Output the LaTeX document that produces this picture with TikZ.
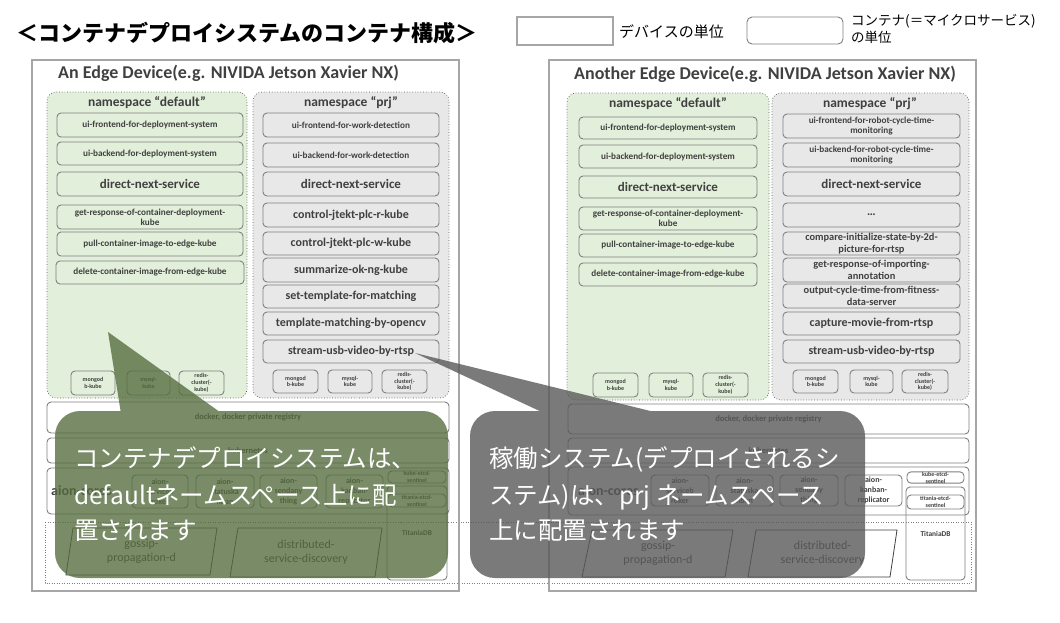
\documentclass[tikz,border=0pt]{standalone}
\usepackage{fontspec}
\setmainfont{Carlito}
\newfontfamily\jpfont{Noto Sans CJK JP}

\definecolor{devline}{HTML}{A6A6A6}
\definecolor{boxline}{HTML}{808080}
\definecolor{ink}{HTML}{404040}
\definecolor{nsgreen}{HTML}{E2EFDA}
\definecolor{nsgrey}{HTML}{E8E8E8}
\definecolor{nsline}{HTML}{595959}
\definecolor{calloutgreen}{RGB}{84,108,61}
\definecolor{calloutgrey}{RGB}{89,89,89}

\tikzset{
  cbox/.style={draw=boxline, line width=0.9pt, rounded corners=4pt, text=ink,
    align=center, inner sep=0pt, font=\fontsize{9.2}{10.4}\selectfont\bfseries},
  fS/.style={font=\fontsize{9.2}{10.4}\selectfont\bfseries},
  fM/.style={font=\fontsize{10.4}{11.4}\selectfont\bfseries},
  fL/.style={font=\fontsize{12}{13}\selectfont\bfseries},
  fXL/.style={font=\fontsize{13}{14}\selectfont\bfseries},
  fDB/.style={font=\fontsize{6}{6.8}\selectfont\bfseries},
  fRow/.style={font=\fontsize{8.5}{10}\selectfont\bfseries},
  fAion/.style={font=\fontsize{8}{10}\selectfont\bfseries},
  fSent/.style={font=\fontsize{6}{7}\selectfont\bfseries},
  devbox/.style={cbox, draw=devline, line width=1.6pt, rounded corners=0pt},
  nsbox/.style={cbox, draw=nsline, line width=0.7pt, dotted, rounded corners=9pt},
  devtitle/.style={anchor=west, text=ink, inner sep=0pt, font=\fontsize{18}{20}\selectfont\bfseries},
  nstitle/.style={text=ink, inner sep=0pt, font=\fontsize{13.5}{15}\selectfont\bfseries},
  para/.style={draw=ink, line width=0.8pt},
  paratext/.style={text=ink, align=center, inner sep=0pt, font=\fontsize{12}{13.5}\selectfont},
  gossipzone/.style={draw=boxline, line width=0.8pt, dash pattern=on 1pt off 1.5pt},
  calltext/.style={anchor=base west, text=white, inner sep=0pt, font=\jpfont\fontsize{24.5}{30}\selectfont},
}

% \boxat[options]{name}{x1}{y1}{x2}{y2}{text}
\newcommand\boxat[7][]{%
  \node[cbox,#1,minimum width={(#5-#3)*1pt},minimum height={(#6-#4)*1pt}]
    (#2) at ({(#3+#5)/2},{(#4+#6)/2}) {#7};}

\begin{document}
\begin{tikzpicture}[x=1pt,y=-1pt]
\useasboundingbox (0,0) rectangle (1060,622);
\fill[white] (0,0) rectangle (1060,622);

% ---- heading and legend ----
\node[anchor=west, inner sep=0pt, font=\jpfont\bfseries\fontsize{22}{24}\selectfont] (title) at (16,33) {＜コンテナデプロイシステムのコンテナ構成＞};
\boxat[devbox, line width=1.2pt]{legdev}{517}{17}{613}{45}{}
\node[anchor=west, inner sep=0pt, font=\jpfont\fontsize{15}{17}\selectfont] (legdevtxt) at (619,32) {デバイスの単位};
\boxat[cbox, rounded corners=5pt]{legctr}{747}{17}{843}{44}{}
\node[anchor=north west, align=left, inner sep=0pt, font=\jpfont\fontsize{13.5}{17.5}\selectfont] (legctrtxt) at (851,14) {コンテナ(＝マイクロサービス)\\の単位};

% ---- shared gossip layer across both devices ----
\draw[gossipzone] (45,522) rectangle (971,583);

% ================= left device =================
\boxat[devbox]{devA}{32}{60}{459}{591}{}
\node[devtitle] (devAtitle) at (58,73) {An Edge Device(e.g. NIVIDA Jetson Xavier NX)};

\boxat[nsbox, fill=nsgreen]{nsAdef}{47}{92}{247}{398}{}
\node[nstitle] (nsAdeftitle) at (147,103) {namespace “default”};
\boxat[fS]{a1}{57}{113}{243}{137}{ui-frontend-for-deployment-system}
\boxat[fS]{a2}{57}{142}{243}{165}{ui-backend-for-deployment-system}
\boxat[fXL]{a3}{57}{172}{243}{196}{direct-next-service}
\boxat[fS]{a4}{57}{205}{243}{229}{get-response-of-container-deployment-\\kube}
\boxat[fS]{a5}{57}{232}{243}{256}{pull-container-image-to-edge-kube}
\boxat[fS]{a6}{56}{261}{244}{284}{delete-container-image-from-edge-kube}
\boxat[fDB]{adb1}{71}{371}{115}{395}{mongod\\b-kube}
\boxat[fDB]{adb2}{127}{371}{170}{395}{mysql-\\kube}
\boxat[fDB]{adb3}{179}{371}{224}{395}{redis-\\cluster(-\\kube)}

\boxat[nsbox, fill=nsgrey]{nsAprj}{253}{92}{449}{398}{}
\node[nstitle] (nsAprjtitle) at (351,103) {namespace “prj”};
\boxat[fS]{b1}{263}{113}{439}{137}{ui-frontend-for-work-detection}
\boxat[fS]{b2}{263}{143}{439}{167}{ui-backend-for-work-detection}
\boxat[fXL]{b3}{263}{172}{439}{196}{direct-next-service}
\boxat[fL]{b4}{263}{203}{439}{227}{control-jtekt-plc-r-kube}
\boxat[fL]{b5}{263}{232}{439}{255}{control-jtekt-plc-w-kube}
\boxat[fL]{b6}{263}{258}{439}{282}{summarize-ok-ng-kube}
\boxat[fL]{b7}{263}{285}{439}{308}{set-template-for-matching}
\boxat[fL]{b8}{263}{312}{439}{335}{template-matching-by-opencv}
\boxat[fL]{b9}{263}{340}{439}{363}{stream-usb-video-by-rtsp}
\boxat[fDB]{bdb1}{273}{370}{318}{393}{mongod\\b-kube}
\boxat[fDB]{bdb2}{328}{370}{372}{393}{mysql-\\kube}
\boxat[fDB]{bdb3}{382}{370}{427}{393}{redis-\\cluster(-\\kube)}

\boxat[fRow]{dockA}{47}{402}{449}{433}{docker, docker private registry}
\boxat[fRow]{kubeA}{47}{438}{449}{463}{kubernetes}
\boxat{aionA}{47}{468}{449}{514}{}
\node[anchor=west, text=ink, inner sep=0pt, font=\fontsize{14}{16}\selectfont\bfseries] (aionAtxt) at (51,491) {aion-cores};
\boxat[fAion]{aA1}{132}{475}{188}{508}{aion-\\serviceb\\roker}
\boxat[fAion]{aA2}{196}{475}{254}{508}{aion-\\statuska\\nban}
\boxat[fAion]{aA3}{260}{475}{317}{508}{aion-\\sendany\\thing}
\boxat[fAion]{aA4}{326}{475}{383}{508}{aion-\\kanban-\\replicator}
\boxat[font=\fontsize{7.4}{8}\selectfont\bfseries]{titA}{387}{486}{447}{580}{TitaniaDB}
\boxat[fSent]{kesA}{388}{471}{446}{483}{kube-etcd-\\sentinel}
\boxat[fSent]{tesA}{388}{494}{446}{507}{titania-etcd-\\sentinel}

\draw[para] (73,528) -- (217,528) -- (210,575) -- (66,575) -- cycle;
\node[paratext] (gosA) at (141.5,551.5) {gossip-\\propagation-d};
\draw[para] (238,528) -- (382,528) -- (375,577) -- (230,577) -- cycle;
\node[paratext] (sdA) at (306,552.5) {distributed-\\service-discovery};

% ================= right device =================
\boxat[devbox]{devB}{549}{60}{976}{591}{}
\node[devtitle] (devBtitle) at (574,74) {Another Edge Device(e.g. NIVIDA Jetson Xavier NX)};

\boxat[nsbox, fill=nsgreen]{nsBdef}{567}{93}{769}{400}{}
\node[nstitle] (nsBdeftitle) at (668,104) {namespace “default”};
\boxat[fS]{c1}{579}{117}{757}{139}{ui-frontend-for-deployment-system}
\boxat[fS]{c2}{579}{145}{757}{168}{ui-backend-for-deployment-system}
\boxat[fXL]{c3}{579}{176}{757}{198}{direct-next-service}
\boxat[fS]{c4}{579}{207}{757}{230}{get-response-of-container-deployment-\\kube}
\boxat[fS]{c5}{579}{234}{757}{257}{pull-container-image-to-edge-kube}
\boxat[fS]{c6}{579}{263}{757}{286}{delete-container-image-from-edge-kube}
\boxat[fDB]{cdb1}{593}{373}{638}{397}{mongod\\b-kube}
\boxat[fDB]{cdb2}{649}{373}{693}{397}{mysql-\\kube}
\boxat[fDB]{cdb3}{703}{373}{748}{397}{redis-\\cluster(-\\kube)}

\boxat[nsbox, fill=nsgrey]{nsBprj}{772}{93}{969}{400}{}
\node[nstitle] (nsBprjtitle) at (870,104) {namespace “prj”};
\boxat[fS]{d1}{783}{114}{960}{138}{ui-frontend-for-robot-cycle-time-\\monitoring}
\boxat[fS]{d2}{783}{143}{960}{167}{ui-backend-for-robot-cycle-time-\\monitoring}
\boxat[fXL]{d3}{783}{172}{960}{196}{direct-next-service}
\boxat[fL]{d4}{783}{203}{960}{227}{…}
\boxat[fM]{d5}{783}{232}{960}{255}{compare-initialize-state-by-2d-\\picture-for-rtsp}
\boxat[fM]{d6}{783}{258}{960}{282}{get-response-of-importing-\\annotation}
\boxat[fM]{d7}{783}{284}{960}{308}{output-cycle-time-from-fitness-\\data-server}
\boxat[fL]{d8}{783}{312}{960}{335}{capture-movie-from-rtsp}
\boxat[fL]{d9}{783}{340}{960}{363}{stream-usb-video-by-rtsp}
\boxat[fDB]{ddb1}{793}{370}{838}{393}{mongod\\b-kube}
\boxat[fDB]{ddb2}{850}{370}{893}{393}{mysql-\\kube}
\boxat[fDB]{ddb3}{902}{370}{948}{393}{redis-\\cluster(-\\kube)}

\boxat[fRow]{dockB}{568}{404}{969}{434}{docker, docker private registry}
\boxat[fRow]{kubeB}{568}{438}{969}{463}{kubernetes}
\boxat{aionB}{568}{467}{969}{515}{}
\node[anchor=west, text=ink, inner sep=0pt, font=\fontsize{14}{16}\selectfont\bfseries] (aionBtxt) at (578,491) {aion-cores};
\boxat[fAion]{aB1}{651}{475}{709}{506}{aion-\\serviceb\\roker}
\boxat[fAion]{aB2}{716}{475}{773}{506}{aion-\\statuska\\nban}
\boxat[fAion]{aB3}{780}{475}{838}{506}{aion-\\sendany\\thing}
\boxat[fAion]{aB4}{845}{475}{902}{506}{aion-\\kanban-\\replicator}
\boxat[font=\fontsize{7.4}{8}\selectfont\bfseries]{titB}{906}{487}{965}{580}{TitaniaDB}
\boxat[fSent]{kesB}{907}{472}{964}{483}{kube-etcd-\\sentinel}
\boxat[fSent]{tesB}{907}{495}{964}{509}{titania-etcd-\\sentinel}

\draw[para] (592,530) -- (733,530) -- (725,577) -- (582,577) -- cycle;
\node[paratext] (gosB) at (658,553.5) {gossip-\\propagation-d};
\draw[para] (756,530) -- (897,530) -- (890,577) -- (748,577) -- cycle;
\node[paratext] (sdB) at (822.5,553.5) {distributed-\\service-discovery};

% ================= callouts =================
\coordinate (tipA) at (108,332);
\coordinate (tipB) at (415,353);
\fill[calloutgreen, fill opacity=0.78]
  [rounded corners=25pt] (55,411) -- (448,411) -- (448,578) -- (55,578) -- cycle
  [sharp corners] (122,420) -- (tipA) -- (231,420) -- cycle;
\node[calltext] (cA1) at (74,467) {コンテナデプロイシステムは、};
\node[calltext] (cA2) at (74,504) {defaultネームスペース上に配};
\node[calltext] (cA3) at (74,539) {置されます};

\fill[calloutgrey, fill opacity=0.8]
  [rounded corners=25pt] (470,411) -- (865,411) -- (865,578) -- (470,578) -- cycle
  [sharp corners] (559,420) -- (tipB) -- (687,420) -- cycle;
\node[calltext] (cB1) at (489,467) {稼働システム(デプロイされるシ};
\node[calltext] (cB2) at (489,504) {ステム)は、prj ネームスペース};
\node[calltext] (cB3) at (489,539) {上に配置されます};
\end{tikzpicture}
\end{document}
